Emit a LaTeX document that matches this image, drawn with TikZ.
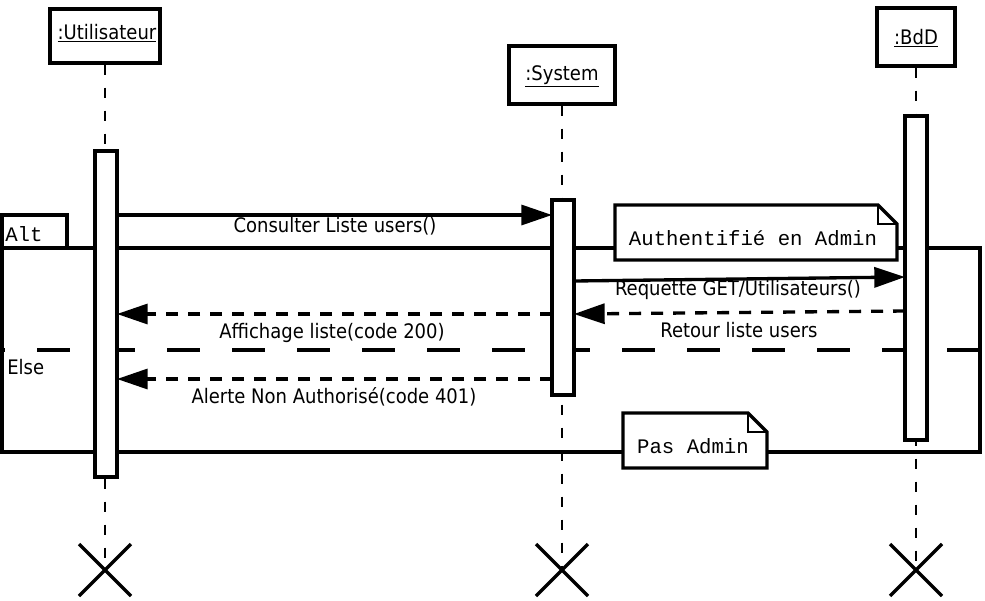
\documentclass[tikz,border=0pt]{standalone}
\usepackage{fontspec}
\setmainfont{DejaVu Sans}[FakeStretch=0.9]
\newfontfamily\monof{Liberation Mono}
\usetikzlibrary{arrows.meta,calc}
\tikzset{
 lbl/.style={font=\fontsize{15}{18}\selectfont, inner sep=0pt},
 mono/.style={font=\monof\fontsize{15.5}{18}\selectfont, inner sep=0pt},
 headbox/.style={draw, line width=2.6pt, fill=white, inner sep=0pt},
 act/.style={draw, line width=2.3pt, fill=white, inner sep=0pt, minimum width=16.5pt},
 life/.style={line width=1.2pt, dash pattern=on 7.5pt off 9.75pt},
 msg/.style={line width=2.5pt, -{Triangle[length=23pt,width=15pt]}},
 ret/.style={msg, dash pattern=on 9pt off 7.5pt},
 framebox/.style={line width=2.5pt},
 sep/.style={line width=2.5pt, dash pattern=on 24.75pt off 24pt, dash phase=22.5pt},
 notebox/.style={line width=2.5pt, fill=white, line join=miter},
 kill/.style={line width=2.5pt},
}
\begin{document}
\begin{tikzpicture}[x=0.75pt,y=-0.75pt]
\useasboundingbox (0,0) rectangle (985,600);
% headers
\node[headbox, minimum width=82.5pt, minimum height=40.5pt] (u) at (105,36) {};
\node[lbl] (ut) at (107,33) {\underline{:Utilisateur}};
\node[headbox, minimum width=79.5pt, minimum height=43.5pt] (s) at (562,75) {};
\node[lbl] (st) at (562,76) {\underline{:System}};
\node[headbox, minimum width=58.5pt, minimum height=43.5pt] (b) at (916,37) {};
\node[lbl] (bt) at (916,38) {\underline{:BdD}};
% destruction points
\coordinate (ux) at (105,570);
\coordinate (sx) at (562,570);
\coordinate (bx) at (916,570);
% lifelines
\draw[life] (u.south) -- (ux);
\draw[life] (s.south) -- (sx);
\draw[life] (b.south) -- (bx);
% frame
\draw[framebox] (2,248) -- (2,215) -- (67,215) -- (67,248);
\draw[framebox] (2,248) rectangle (980,452);
\draw[sep] (2,350) -- (980,350);
\node[mono, anchor=west] (alt) at (5,234) {Alt};
\node[lbl, anchor=west] (else) at (7,367) {Else};
% activations
\node[act, minimum height=244.5pt] (ua) at (106,314) {};
\node[act, minimum height=146.25pt] (sa) at (563,297.5) {};
\node[act, minimum height=243pt] (ba) at (916,278) {};
% message ends
\coordinate (m1a) at (117,215); \coordinate (m1b) at (552,215);
\coordinate (m2a) at (574,281); \coordinate (m2b) at (905,277);
\coordinate (m3a) at (905,311); \coordinate (m3b) at (574,314);
\coordinate (m4a) at (552,314); \coordinate (m4b) at (117,314);
\coordinate (m5a) at (552,379); \coordinate (m5b) at (117,379);
\draw[msg] (m1a) -- (m1b);
\draw[msg] (m2a) -- (m2b);
\draw[ret] (m3a) -- (m3b);
\draw[ret] (m4a) -- (m4b);
\draw[ret] (m5a) -- (m5b);
\node[lbl] (l1) at (335,226) {Consulter Liste users()};
\node[lbl] (l2) at (738,290) {Requette GET/Utilisateurs()};
\node[lbl] (l3) at (739,330) {Retour liste users};
\node[lbl] (l4) at (332,333) {Affichage liste(code 200)};
\node[lbl] (l5) at (334,397) {Alerte Non Authorisé(code 401)};
% notes
\draw[notebox] (615,205) -- (878,205) -- (897,224) -- (897,260) -- (615,260) -- cycle;
\draw[line width=1.2pt] (878,205) -- (878,224) -- (897,224);
\node[mono] (n1) at (753,238) {Authentifié en Admin};
\draw[notebox] (623,413) -- (748,413) -- (767,432) -- (767,468) -- (623,468) -- cycle;
\draw[line width=1.2pt] (748,413) -- (748,432) -- (767,432);
\node[mono] (n2) at (693,446) {Pas Admin};
% destruction marks
\foreach \p in {ux,sx,bx}{
  \draw[kill] ($(\p)+(-26,-26)$) -- ($(\p)+(26,26)$) ($(\p)+(-26,26)$) -- ($(\p)+(26,-26)$);
}
\end{tikzpicture}
\end{document}
